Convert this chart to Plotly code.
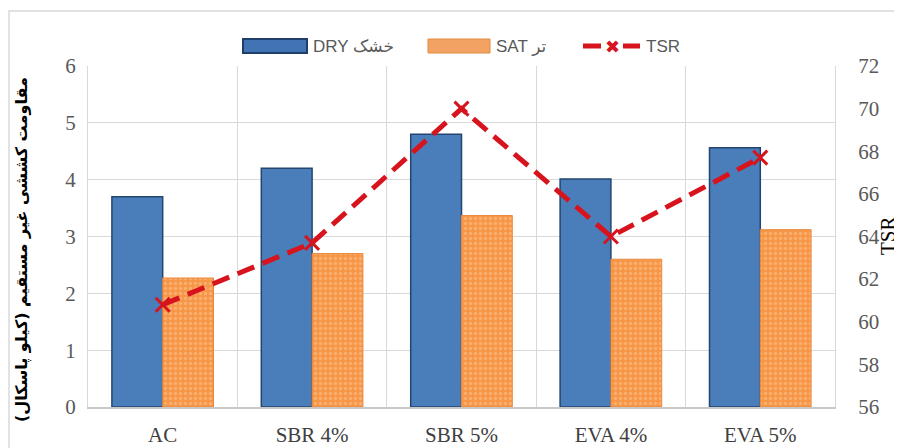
import plotly.graph_objects as go

categories = ["AC", "SBR 4%", "SBR 5%", "EVA 4%", "EVA 5%"]
dry = [3.70, 4.20, 4.80, 4.01, 4.56]
sat = [2.27, 2.70, 3.37, 2.60, 3.12]
tsr = [60.8, 63.7, 70.0, 64.0, 67.7]

name_dry = "DRY خشک"
name_sat = "SAT تر"
name_tsr = "TSR"
y_title = "\u200fمقاومت کششی غیر مستقیم (کیلو پاسکال)\u200f"
y2_title = "TSR"

# The page body has an 8px margin, so the figure is drawn 8px in from the corner.
OFF = 8
W, H = 902 - OFF, 448 - OFF
# plot-area edges, in page pixels of the reference
L_ref, R_ref, T_ref, B_ref = 88, 835, 66, 407
L, R, T, B = L_ref - OFF, R_ref - OFF, T_ref - OFF, B_ref - OFF

def px(x_ref):
    return (x_ref - OFF - L) / (R - L)

def py(y_ref):
    return (B - (y_ref - OFF)) / (B - T)

xpos = list(range(len(categories)))
red = "#D7141E"

fig = go.Figure()
fig.add_trace(go.Bar(
    x=xpos, y=dry, name=name_dry,
    marker=dict(color="#4A7EBB", line=dict(color="#24456E", width=1.5)),
))
fig.add_trace(go.Bar(
    x=xpos, y=sat, name=name_sat,
    marker=dict(color="#F79646", line=dict(color="#E9893D", width=1),
                pattern=dict(shape=".", fgcolor="#FBC79A", bgcolor="#F79646",
                             size=5, solidity=0.35)),
))
fig.add_trace(go.Scatter(
    x=xpos, y=tsr, name=name_tsr, yaxis="y2", mode="lines+markers",
    line=dict(color=red, width=5, dash="18px,9px"),
    marker=dict(symbol="x-thin", size=14, line=dict(color=red, width=3), color=red),
))

tick_font = dict(family="Liberation Serif, Times New Roman, serif", size=21, color="#595959")
leg_font = dict(family="Liberation Sans, DejaVu Sans, sans-serif", size=17, color="#595959")

fig.update_layout(
    width=W, height=H,
    margin=dict(l=L, r=W - R, t=T, b=H - B),
    paper_bgcolor="white", plot_bgcolor="white",
    barmode="group", bargap=0.32, bargroupgap=0,
    showlegend=False,
    xaxis=dict(
        range=[-0.5, 4.5], tickmode="array", tickvals=xpos, ticktext=categories,
        showgrid=False, zeroline=False, automargin=False,
        showline=True, linecolor="#C8C8C8", linewidth=2,
        ticks="", ticklabelstandoff=8,
        tickfont=dict(family="Liberation Serif, Times New Roman, serif", size=21, color="#404040"),
        minor=dict(tickmode="linear", tick0=-0.5, dtick=1, showgrid=True,
                   gridcolor="#D9D9D9", gridwidth=1, ticks=""),
    ),
    yaxis=dict(
        range=[0, 6], dtick=1, showgrid=True, gridcolor="#D9D9D9", gridwidth=1,
        zeroline=False, showline=True, linecolor="#D9D9D9", linewidth=1, automargin=False,
        ticks="", ticklabelstandoff=7, tickfont=tick_font,
    ),
    yaxis2=dict(
        range=[56, 72], dtick=2, overlaying="y", side="right", automargin=False,
        showgrid=False, zeroline=False, showline=True, linecolor="#D9D9D9", linewidth=1,
        ticks="", ticklabelstandoff=18, tickfont=tick_font,
    ),
    annotations=[
        dict(text=y_title, xref="paper", yref="paper", x=px(22), y=py(250),
             textangle=-90, showarrow=False, xanchor="center", yanchor="middle",
             font=dict(family="DejaVu Sans, sans-serif", size=16, color="#000000", weight="bold")),
        dict(text=y2_title, xref="paper", yref="paper", x=px(888), y=py(236),
             textangle=-90, showarrow=False, xanchor="center", yanchor="middle",
             font=dict(family="Liberation Serif, Times New Roman, serif", size=21, color="#000000")),
        # legend texts
        dict(text=name_dry, xref="paper", yref="paper", x=px(311), y=py(46),
             xanchor="left", yanchor="middle", showarrow=False, font=leg_font),
        dict(text=name_sat, xref="paper", yref="paper", x=px(494), y=py(46),
             xanchor="left", yanchor="middle", showarrow=False, font=leg_font),
        dict(text=name_tsr, xref="paper", yref="paper", x=px(644), y=py(46),
             xanchor="left", yanchor="middle", showarrow=False, font=leg_font),
        dict(text="✖", xref="paper", yref="paper", x=px(612), y=py(46),
             xanchor="center", yanchor="middle", showarrow=False,
             font=dict(family="DejaVu Sans, sans-serif", size=18, color=red)),
    ],
    shapes=[
        dict(type="rect", xref="paper", yref="paper",
             x0=px(9), x1=px(915), y0=py(470), y1=py(11),
             line=dict(color="#D9D9D9", width=1.5), layer="below"),
        # legend swatches
        dict(type="rect", xref="paper", yref="paper",
             x0=px(243), x1=px(307), y0=py(53), y1=py(39),
             fillcolor="#4273B3", line=dict(color="#1F3F6A", width=2)),
        dict(type="rect", xref="paper", yref="paper",
             x0=px(428), x1=px(490), y0=py(53), y1=py(39),
             fillcolor="#F2A263", line=dict(color="#E08A40", width=1)),
        dict(type="line", xref="paper", yref="paper",
             x0=px(583), x1=px(601), y0=py(46), y1=py(46),
             line=dict(color=red, width=5)),
        dict(type="line", xref="paper", yref="paper",
             x0=px(623), x1=px(640), y0=py(46), y1=py(46),
             line=dict(color=red, width=5)),
    ],
)

fig.write_html("out.html")
